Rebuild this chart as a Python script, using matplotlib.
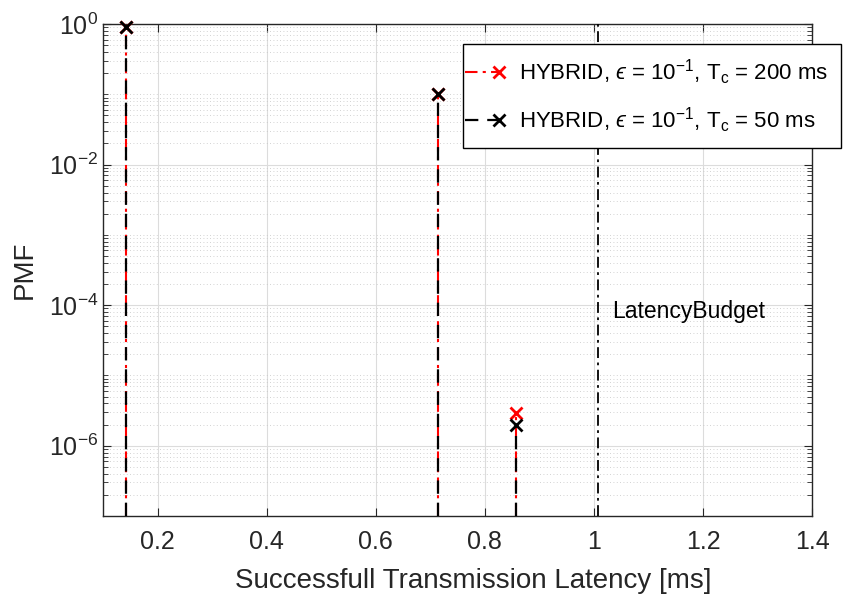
import matplotlib
matplotlib.use("Agg")
from matplotlib import pyplot as plt
from matplotlib.lines import Line2D
from matplotlib.legend_handler import HandlerBase
from matplotlib.ticker import NullFormatter
import numpy as np

plt.rcParams['font.family'] = ['Liberation Sans', 'DejaVu Sans']
plt.rcParams['mathtext.fontset'] = 'custom'
plt.rcParams['mathtext.rm'] = 'Liberation Sans'
plt.rcParams['mathtext.it'] = 'Liberation Sans:italic'
plt.rcParams['mathtext.fallback'] = 'stix'

# data
latency = [1/7, 5/7, 6/7]
pmf_200 = [0.9, 0.0999, 2.9e-6]
pmf_50 = [0.9, 0.0999, 2.0e-6]
budget = 1.007
label_200 = 'HYBRID, $\u03f5$ = 10$^{-1}$, T$_{\\rm c}$ = 200 ms'
label_50 = 'HYBRID, $\u03f5$ = 10$^{-1}$, T$_{\\rm c}$ = 50 ms'

axcol = '#262626'
ymin = 1e-7
red_ls = (0, (6, 2.5, 1.5, 2.5))
blk_ls = (0, (6, 4))


class EndMarkerHandler(HandlerBase):
    # line then marker at its right end, like MATLAB legends
    def create_artists(self, legend, orig_handle, xdescent, ydescent,
                       width, height, fontsize, trans):
        y = (height - ydescent) / 2
        x0, x1 = -xdescent - 8, -xdescent + width - 14
        line = Line2D([x0, x1], [y, y])
        line.update_from(orig_handle)
        line.set_marker('None')
        mark = Line2D([x1], [y])
        mark.update_from(orig_handle)
        mark.set_linestyle('None')
        line.set_transform(trans)
        mark.set_transform(trans)
        return [line, mark]


fig = plt.figure(figsize=(8.45, 6.01), dpi=100)
ax = fig.add_axes([0.1219, 0.1414, 0.961 - 0.1219, 0.960 - 0.1414])

ax.set_yscale('log')
ax.set_xlim(0.1, 1.4)
ax.set_ylim(ymin, 1)

# stems
for x, y in zip(latency, pmf_200):
    ax.plot([x, x], [ymin, y], color='red', ls=red_ls, lw=1.5, zorder=3)
ax.plot(latency, pmf_200, ls='none', marker='x', ms=8, mew=2, color='red', zorder=4, clip_on=False)
for x, y in zip(latency, pmf_50):
    ax.plot([x, x], [ymin, y], color='black', ls=blk_ls, lw=1.6, zorder=5)
ax.plot(latency, pmf_50, ls='none', marker='x', ms=8, mew=2, color='black', zorder=6, clip_on=False)

# latency budget
ax.plot([budget, budget], [ymin, 1], color='black', ls=(0, (6, 2.5, 1.5, 2.5)), lw=1.3, zorder=3)
ax.text(budget + 0.026, 8e-5, 'LatencyBudget', fontsize=16.5, va='center', ha='left')

ax.set_xticks(np.arange(0.2, 1.41, 0.2))
ax.set_xticklabels(['0.2', '0.4', '0.6', '0.8', '1', '1.2', '1.4'])
ax.set_yticks([1e-6, 1e-4, 1e-2, 1])
ax.set_yticklabels([r'$10^{-6}$', r'$10^{-4}$', r'$10^{-2}$', r'$10^{0}$'])
minors = [m * 10.0**e for e in range(-7, 0) for m in range(1, 10)]
minors = [v for v in minors if v not in (1e-6, 1e-4, 1e-2) and v >= ymin]
ax.set_yticks(minors, minor=True)
ax.yaxis.set_minor_formatter(NullFormatter())
ax.set_xticks([], minor=True)

ax.tick_params(which='both', direction='in', top=True, right=True, colors=axcol,
               labelsize=18, labelcolor=axcol)
ax.tick_params(which='major', length=6, width=0.8)
ax.tick_params(which='minor', length=3.5, width=0.6)
ax.tick_params(axis='x', pad=10)
for s in ax.spines.values():
    s.set_color(axcol)
    s.set_linewidth(1.0)

ax.grid(True, which='major', color='#dcdcdc', lw=0.8, zorder=0)
ax.grid(True, which='minor', axis='y', color='#c4c4c4', lw=0.6, ls=(0, (1, 3)), zorder=0)
ax.set_axisbelow(True)

ax.set_xlabel('Successfull Transmission Latency [ms]', fontsize=20, color=axcol)
ax.xaxis.set_label_coords(0.522, -0.105)
ax.set_ylabel('PMF', fontsize=20, color=axcol, labelpad=8)

handles = [
    Line2D([], [], color='red', ls=red_ls, lw=1.5, marker='x', ms=8, mew=2),
    Line2D([], [], color='black', ls=blk_ls, lw=1.6, marker='x', ms=8, mew=2),
]
leg = fig.legend(handles, [label_200, label_50], loc='upper left',
                 bbox_to_anchor=(0.548, 0.927), fontsize=16, frameon=True,
                 fancybox=False, framealpha=1, edgecolor='black',
                 handlelength=1.9, handletextpad=0.0, labelspacing=0.85,
                 borderpad=0.6, borderaxespad=0,
                 handler_map={Line2D: EndMarkerHandler()})
leg.get_frame().set_linewidth(1.0)

fig.savefig('out.png', dpi=100)
